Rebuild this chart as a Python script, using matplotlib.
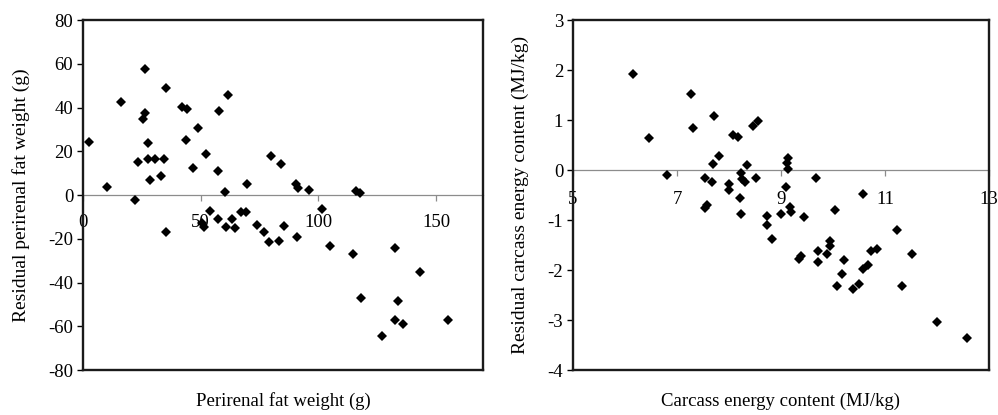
import matplotlib.pyplot as plt

plt.rcParams['font.family'] = ['Liberation Serif', 'DejaVu Serif']
plt.rcParams['axes.unicode_minus'] = False

# left panel: perirenal fat weight (g) vs residual
fat_x = [2.6, 10.1, 16.0, 22.0, 23.4, 26.2, 26.2, 25.5, 27.8, 27.6,
         28.5, 30.6, 33.0, 34.4, 35.1, 42.2, 44.0, 43.9, 46.9, 49.0,
         52.2, 57.3, 57.8, 60.2, 61.5, 69.6, 79.8, 84.3, 90.4, 91.5,
         96.1, 115.9, 117.6, 35.1, 50.7, 51.4, 53.9, 57.5, 60.7, 63.5,
         64.6, 67.3, 69.1, 74.1, 76.9, 79.1, 83.3, 85.2, 90.8, 101.5,
         105.0, 114.9, 118.3, 127.0, 132.5, 132.5, 133.9, 136.1, 143.1, 154.9]
fat_res = [24.4, 3.8, 42.7, -2.3, 15.0, 57.6, 37.3, 34.7, 23.6, 16.5,
           6.9, 16.5, 8.7, 16.5, 49.0, 40.4, 39.3, 25.1, 12.5, 30.8,
           18.7, 11.0, 38.5, 1.5, 45.8, 4.9, 18.0, 14.0, 4.9, 3.1,
           2.3, 1.8, 0.8, -16.8, -12.9, -14.5, -7.2, -11.1, -14.5, -11.1,
           -15.2, -7.6, -7.6, -13.9, -16.8, -21.7, -20.9, -14.2, -19.4, -6.6,
           -23.2, -27.1, -46.9, -64.3, -24.1, -57.1, -48.5, -59.0, -35.0, -57.1]

# right panel: carcass energy content (MJ/kg) vs residual
en_x = [6.15, 6.46, 6.81, 7.27, 7.30, 7.71, 7.81, 7.70, 7.54, 7.68,
        7.53, 7.58, 8.00, 8.00, 8.08, 8.18, 8.21, 8.24, 8.34, 8.24,
        8.26, 8.31, 8.53, 8.47, 8.56, 9.11, 9.14, 9.14, 9.10, 9.67,
        10.57, 9.17, 9.20, 10.04, 8.74, 8.74, 8.83, 9.00, 9.44, 9.35,
        9.39, 9.71, 9.71, 9.88, 9.94, 9.94, 10.21, 10.18, 10.07, 10.39,
        10.51, 10.58, 10.67, 10.74, 10.84, 11.24, 11.53, 11.33, 12.01, 12.57]
en_res = [1.92, 0.64, -0.09, 1.53, 0.85, 1.09, 0.28, 0.12, -0.15, -0.23,
          -0.76, -0.70, -0.28, -0.40, 0.71, 0.67, -0.55, -0.88, 0.10, -0.05,
          -0.17, -0.23, -0.15, 0.89, 0.99, 0.15, 0.25, 0.02, -0.33, -0.15,
          -0.47, -0.73, -0.83, -0.79, -0.92, -1.10, -1.37, -0.88, -0.93, -1.78,
          -1.72, -1.61, -1.83, -1.68, -1.41, -1.52, -1.79, -2.07, -2.31, -2.38,
          -2.27, -1.97, -1.90, -1.61, -1.58, -1.20, -1.68, -2.31, -3.03, -3.35]

fat_xticks = [0, 50, 100, 150]
fat_yticks = [-80, -60, -40, -20, 0, 20, 40, 60, 80]
en_xticks = [5, 7, 9, 11, 13]
en_yticks = [-4, -3, -2, -1, 0, 1, 2, 3]

fig = plt.figure(figsize=(9.98, 4.15), dpi=100)
ax1 = fig.add_axes([0.0832, 0.1084, 0.4008, 0.8434])
ax2 = fig.add_axes([0.5741, 0.1084, 0.4168, 0.8434])


def style_panel(ax, xs, ys, xlim, ylim, xticks, yticks, xlabel, ylabel, ypad, xpad):
    ax.plot(xs, ys, linestyle='none', marker='D', markersize=4.9,
            color='black', markeredgewidth=0, zorder=3)
    ax.set_xlim(*xlim)
    ax.set_ylim(*ylim)
    for s in ax.spines.values():
        s.set_linewidth(1.7)
        s.set_color('#1a1a1a')
    ax.set_yticks(yticks)
    ax.tick_params(axis='y', direction='out', length=4, width=1,
                   labelsize=13.5, pad=3)
    ax.set_xticks([])
    ax.set_xlabel(xlabel, fontsize=13.5, labelpad=16)
    ax.set_ylabel(ylabel, fontsize=14, labelpad=ypad)

    # x axis crossing at y = 0, Excel style
    frac = (0 - ylim[0]) / (ylim[1] - ylim[0])
    sec = ax.secondary_xaxis(frac)
    sec.set_xticks(xticks)
    sec.xaxis.set_ticks_position('bottom')
    sec.xaxis.set_label_position('bottom')
    sec.spines['top'].set_visible(False)
    sec.spines['bottom'].set_visible(True)
    sec.spines['bottom'].set_color('#8c8c8c')
    sec.spines['bottom'].set_linewidth(0.9)
    sec.tick_params(direction='out', length=4, width=0.9, color='#8c8c8c',
                    labelsize=13.5, pad=xpad)


style_panel(ax1, fat_x, fat_res, (0, 170), (-80, 80), fat_xticks, fat_yticks,
            'Perirenal fat weight (g)', 'Residual perirenal fat weight (g)',
            13, 10)
style_panel(ax2, en_x, en_res, (5, 13), (-4, 3), en_xticks, en_yticks,
            'Carcass energy content (MJ/kg)',
            'Residual carcass energy content (MJ/kg)', 13.5, 11)

fig.savefig('out.png', dpi=100)
